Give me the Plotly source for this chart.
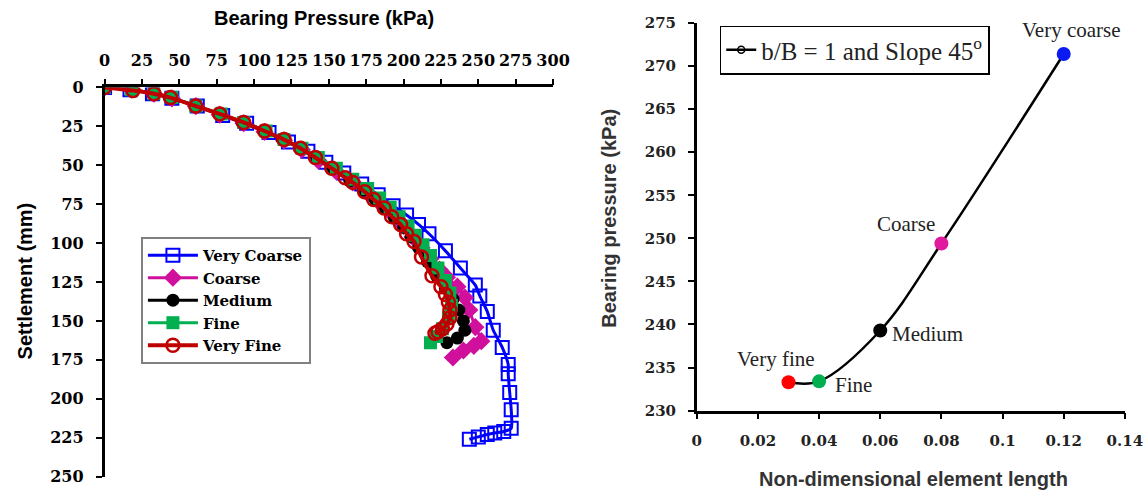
import plotly.graph_objects as go

# ---------------- Left chart data: Bearing Pressure (kPa) vs Settlement (mm)
vc_p = [0, 17, 32, 45, 62, 79, 95, 110, 123, 136, 148, 160, 172, 183, 193, 202, 210, 217, 228, 238, 248, 251, 256, 260, 266, 270, 270, 271, 272, 272, 267, 261, 256, 250, 244]
vc_s = [0, 1.5, 4, 7, 12, 18, 23, 29, 35, 41, 48, 55, 62, 69, 76, 82, 88, 94, 105, 116, 127, 134, 144, 156, 167, 178, 184, 196, 207, 219, 221, 222, 223, 224.5, 226]

co_p = [0, 18, 33, 45, 61, 77, 93, 107, 120, 132, 143, 155, 166, 176, 185, 193, 200, 206, 212, 218, 224, 229, 236, 241, 244, 248, 252, 247, 240, 233]
co_s = [0, 1.5, 4, 7, 12, 17.5, 23, 28.5, 34, 40, 47, 54, 61, 68, 75, 82, 89, 96, 103, 110, 117, 122, 128, 135, 143, 154, 163, 166, 169, 173.5]

me_p = [0, 18, 33, 44, 61, 77, 92, 107, 119, 131, 142, 153, 164, 173, 181, 188, 194, 200, 205, 210, 216, 222, 228, 233, 237, 240, 241, 236, 229]
me_s = [0, 1.5, 4, 6.5, 12, 17, 22.5, 28, 33.5, 39, 45, 52, 60, 66, 72, 78, 84, 90, 96, 103, 112, 121, 129, 136, 143, 150, 156, 161, 164]

fi_p = [0, 18, 33, 45, 61, 78, 93, 108, 120, 132, 143, 155, 166, 176, 184, 191, 197, 203, 208, 213, 218, 223, 228, 231, 232, 230, 226, 222, 218]
fi_s = [0, 1.5, 4, 6.5, 12, 17, 22.5, 28, 33.5, 39, 45, 52, 59, 65, 71, 77, 83, 89, 95, 101, 108, 116, 124, 132, 140, 148, 155, 160, 164]

vf_p = [0, 19, 33, 44, 61, 77, 93, 107, 120, 131, 141, 152, 161, 166, 174, 180, 187, 192, 198, 202, 207, 212, 219, 225, 228, 230, 231, 231, 229, 226, 223, 221]
vf_s = [0, 2, 4, 6.5, 12, 17, 22.5, 28, 33.5, 39, 45, 52, 58, 61, 67, 72, 77.5, 83, 88, 94, 99, 109, 121, 128, 133, 138, 143, 148, 152, 155, 157, 158]

left_names = ["Very Coarse", "Coarse", "Medium", "Fine", "Very Fine"]
left_ticks_x = [0, 25, 50, 75, 100, 125, 150, 175, 200, 225, 250, 275, 300]
left_ticks_y = [0, 25, 50, 75, 100, 125, 150, 175, 200, 225, 250]

# ---------------- Right chart data
el_len = [0.03, 0.04, 0.06, 0.08, 0.12]
bear_p = [233.3, 233.4, 239.3, 249.4, 271.4]
pt_labels = ["Very fine", "Fine", "Medium", "Coarse", "Very coarse"]
right_ticks_x = [0, 0.02, 0.04, 0.06, 0.08, 0.1, 0.12, 0.14]
right_ticks_y = [230, 235, 240, 245, 250, 255, 260, 265, 270, 275]

W, H = 1148, 494

# target pixel positions are corrected for the slight rescaling seen in the render
def px(x):
    return ((x - 1.8) / 0.982) / W

def py(y):
    return 1 - ((y - 10.6) / 0.957) / H

fig = go.Figure()

serif = "Liberation Serif"
bserif = "DejaVu Serif"
sans = "Liberation Sans"

styles = [
    dict(color="#0000FF", symbol="square-open", size=13, lw=3, mlw=2),
    dict(color="#D0109C", symbol="diamond", size=14, lw=3, mlw=0),
    dict(color="#000000", symbol="circle", size=13, lw=3, mlw=0),
    dict(color="#00B050", symbol="square", size=13, lw=3, mlw=0),
    dict(color="#C00000", symbol="circle-open", size=13, lw=4, mlw=2.5),
]
series = [(vc_p, vc_s), (co_p, co_s), (me_p, me_s), (fi_p, fi_s), (vf_p, vf_s)]

for (p, s), name, st in zip(series, left_names, styles):
    fig.add_trace(go.Scatter(
        x=p, y=s, name=name, mode="lines+markers",
        line=dict(color=st["color"], width=st["lw"], shape="spline", smoothing=0.6),
        marker=dict(symbol=st["symbol"], size=st["size"], color=st["color"],
                    line=dict(color=st["color"], width=st["mlw"])),
        xaxis="x", yaxis="y", legend="legend",
    ))

fig.add_trace(go.Scatter(
    x=el_len, y=bear_p, name="b/B = 1 and Slope 45<sup>o</sup>",
    mode="lines+markers",
    line=dict(color="black", width=2.5, shape="spline", smoothing=1.0),
    marker=dict(symbol="circle-open", size=7, color="black", line=dict(width=1.5)),
    xaxis="x2", yaxis="y2", legend="legend2",
))
pt_colors = ["#FF0000", "#00B050", "#000000", "#E0199E", "#0A1AF0"]
fig.add_trace(go.Scatter(
    x=el_len, y=bear_p, mode="markers", showlegend=False,
    marker=dict(size=14, color=pt_colors),
    xaxis="x2", yaxis="y2",
))

lab_style = {
    "Very fine": dict(xshift=-13, yshift=23, xanchor="center"),
    "Fine": dict(xshift=14, yshift=-4, xanchor="left"),
    "Medium": dict(xshift=10, yshift=-3, xanchor="left"),
    "Coarse": dict(xshift=-35, yshift=20, xanchor="center"),
    "Very coarse": dict(xshift=8, yshift=24, xanchor="center"),
}
for xv, yv, lab in zip(el_len, bear_p, pt_labels):
    st = lab_style[lab]
    fig.add_annotation(x=xv, y=yv, xref="x2", yref="y2", text=lab, showarrow=False,
                       xshift=st["xshift"], yshift=st["yshift"], xanchor=st["xanchor"],
                       yanchor="middle", font=dict(family=serif, size=21, color="#222"))

fig.add_annotation(x=px(320), y=py(20), xref="paper", yref="paper",
                   text="Bearing Pressure (kPa)", showarrow=False,
                   xanchor="center", yanchor="middle",
                   font=dict(family=sans, size=20, color="black", weight="bold"))
fig.add_annotation(x=px(21), y=py(281), xref="paper", yref="paper",
                   text="Settlement (mm)", showarrow=False, textangle=-90,
                   xanchor="center", yanchor="middle",
                   font=dict(family=sans, size=20, color="black", weight="bold"))
fig.add_annotation(x=px(911), y=py(477), xref="paper", yref="paper",
                   text="Non-dimensional element length", showarrow=False,
                   xanchor="center", yanchor="middle",
                   font=dict(family=sans, size=20, color="#333", weight="bold"))
fig.add_annotation(x=px(606), y=py(218), xref="paper", yref="paper",
                   text="Bearing pressure (kPa)", showarrow=False, textangle=-90,
                   xanchor="center", yanchor="middle",
                   font=dict(family=sans, size=20, color="#333", weight="bold"))

axis_common = dict(showgrid=False, zeroline=False, showline=True, linecolor="black",
                   linewidth=2.5, ticks="outside", ticklen=6, tickwidth=2, tickcolor="black")

tf_left = dict(family=bserif, size=16, color="black", weight="bold")
tf_right = dict(family=bserif, size=15, color="#222", weight="bold")

fig.update_layout(
    width=W, height=H,
    margin=dict(l=0, r=0, t=0, b=0),
    paper_bgcolor="white", plot_bgcolor="white",
    xaxis=dict(domain=[px(100.6), px(550)], range=[0, 300], side="top",
               tickvals=left_ticks_x, tickfont=tf_left,
               anchor="y", ticklabelstandoff=6, **axis_common),
    yaxis=dict(domain=[py(475), py(88.5)], range=[250, 0],
               tickvals=left_ticks_y, tickfont=tf_left,
               anchor="x", ticklabelstandoff=9, **axis_common),
    xaxis2=dict(domain=[px(694), px(1123)], range=[0, 0.14],
                tickvals=right_ticks_x, ticktext=[f"{v:g}" for v in right_ticks_x],
                tickfont=tf_right, anchor="y2", ticklabelstandoff=9, **axis_common),
    yaxis2=dict(domain=[py(409.5), py(24.5)], range=[230, 275],
                tickvals=right_ticks_y, tickfont=tf_right,
                anchor="x2", ticklabelstandoff=9, **axis_common),
    legend=dict(x=px(137), y=py(237), xanchor="left", yanchor="top",
                bgcolor="white", bordercolor="#808080", borderwidth=2,
                font=dict(family=bserif, size=15, color="black", weight="bold"),
                tracegroupgap=0, itemwidth=50),
    legend2=dict(x=px(717), y=py(27), xanchor="left", yanchor="top",
                 bgcolor="white", bordercolor="black", borderwidth=1.5,
                 font=dict(family=serif, size=25, color="#222")),
)

fig.write_html("out.html")
